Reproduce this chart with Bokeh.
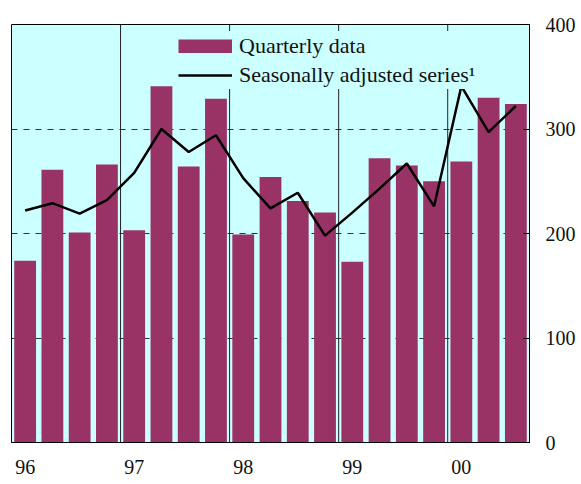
from bokeh.plotting import figure
from bokeh.models import Range1d, FixedTicker, Span, Legend, LegendItem, ColumnDataSource
from bokeh.embed import file_html
from bokeh.resources import INLINE

years = ["96", "97", "98", "99", "00"]
quarters_per_year = 4
quarterly = [174, 261, 201, 266, 203, 341, 264, 329, 199, 254, 231, 220,
             173, 272, 265, 250, 269, 330, 324]
adjusted = [222, 229, 219, 232, 258, 300, 278, 294, 253, 224, 239, 198,
            220, 243, 267, 226, 341, 297, 322]
y_ticks = [0, 100, 200, 300, 400]
grid_ticks = [100, 200, 300]

idx = list(range(len(quarterly)))
src = ColumnDataSource(dict(x=idx, q=quarterly, a=adjusted))

FONT = "Liberation Serif"
BAR = "#993366"

p = figure(frame_width=518, frame_height=418, min_border_left=11, min_border_top=24,
           min_border_right=0, min_border_bottom=0,
           x_range=Range1d(-0.5, len(quarterly) - 0.5), y_range=Range1d(0, 400),
           y_axis_location="right", output_backend="svg", toolbar_location=None)

p.background_fill_color = "#CCFFFF"
p.border_fill_color = "white"
p.outline_line_color = "black"
p.outline_line_width = 1

bars = p.vbar(x="x", top="q", width=0.8, source=src, fill_color=BAR,
              line_color=None)
ln = p.line(x="x", y="a", source=src, line_color="black", line_width=2.5)
# legend swatch proxy (not drawn in the plot: NaN data) so the swatch fills the glyph box
nan = float("nan")
swatch = p.line(x=[nan], y=[nan], line_color=BAR, line_width=14, line_cap="butt")

# year dividers
for k in range(1, len(years)):
    p.add_layout(Span(location=k * quarters_per_year - 0.5, dimension="height",
                      line_color="#222222", line_width=1, level="underlay"))

# axes
p.xaxis.ticker = FixedTicker(ticks=[k * quarters_per_year for k in range(len(years))])
p.xaxis.major_label_overrides = {k * quarters_per_year: y for k, y in enumerate(years)}
p.xaxis.major_tick_line_color = None
p.xaxis.minor_tick_line_color = None
p.xaxis.axis_line_color = "black"
p.xaxis.major_label_standoff = 11
p.xaxis.major_label_text_font = FONT
p.xaxis.major_label_text_font_size = "20px"
p.xaxis.major_label_text_color = "#111111"

p.yaxis.ticker = FixedTicker(ticks=y_ticks)
p.yaxis.major_tick_in = 6
p.yaxis.major_tick_out = 0
p.yaxis.minor_tick_line_color = None
p.yaxis.axis_line_color = "black"
p.yaxis.major_label_standoff = 16
p.yaxis.major_label_text_font = FONT
p.yaxis.major_label_text_font_size = "20px"
p.yaxis.major_label_text_color = "#111111"

p.xgrid.grid_line_color = None
p.ygrid.ticker = FixedTicker(ticks=grid_ticks)
p.ygrid.grid_line_color = "#333333"
p.ygrid.grid_line_dash = "6 6"
p.ygrid.grid_line_width = 1

legend = Legend(items=[LegendItem(label="Quarterly data", renderers=[swatch]),
                       LegendItem(label="Seasonally adjusted series\u00b9", renderers=[ln])],
                location=(167, 418 - 65), background_fill_color="#CCFFFF",
                background_fill_alpha=1.0, border_line_color=None,
                label_text_font=FONT, label_text_font_size="22px",
                label_text_color="#111111",
                glyph_width=54, glyph_height=14, label_height=29, spacing=0,
                padding=3, margin=0, label_standoff=7)
p.add_layout(legend, "center")

open("out.html", "w").write(file_html(p, INLINE))
